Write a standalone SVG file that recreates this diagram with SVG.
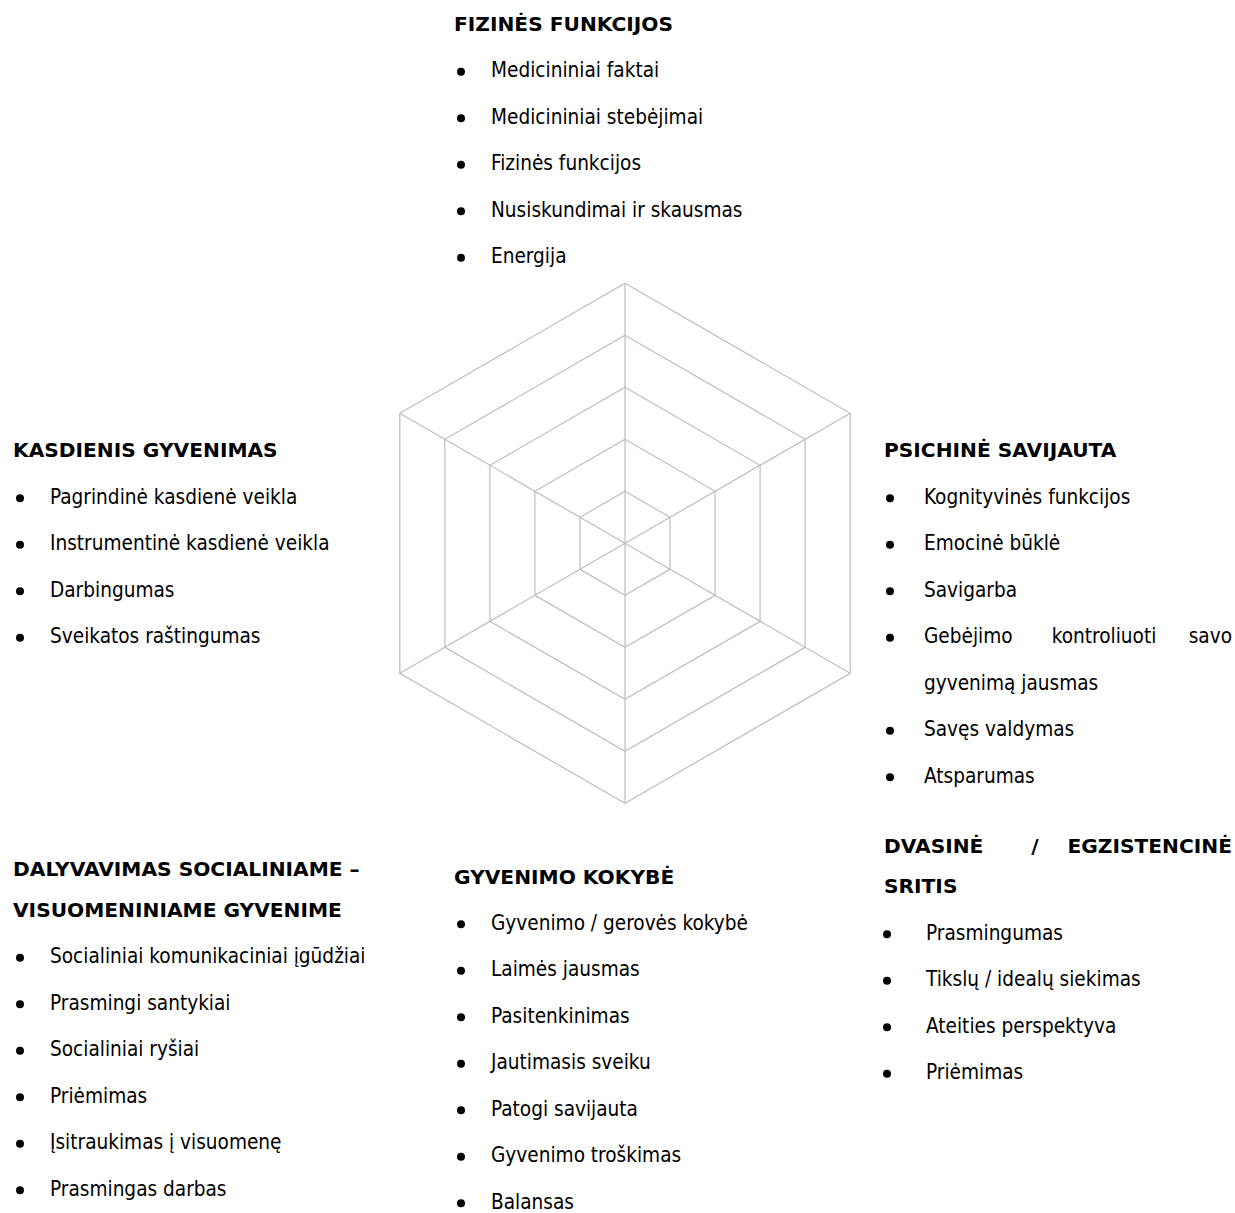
<svg xmlns="http://www.w3.org/2000/svg" width="1235" height="1213" viewBox="0 0 1235 1213">
  <style>
    .grid { fill: none; stroke: #bdbdbd; stroke-width: 1.2; stroke-linejoin: miter; }
    .head { font-family: "DejaVu Sans", "Liberation Sans", sans-serif; font-weight: bold; font-size: 20.2px; fill: #000; }
    .item { font-family: "DejaVu Sans Condensed", "DejaVu Sans", sans-serif; font-stretch: condensed; font-size: 20.6px; fill: #000; }
    .dot { fill: #000; }
  </style>
  <defs>
    <circle id="bullet" class="dot" r="4"/>
  </defs>
  <rect width="1235" height="1213" fill="#fff"/>

  <!-- hexagonal radar grid: five rings and six spokes -->
  <g id="radar" transform="translate(625,543.3)">
    <polygon class="grid" points="0,-52 45.03,-26 45.03,26 0,52 -45.03,26 -45.03,-26"/>
    <polygon class="grid" points="0,-104 90.07,-52 90.07,52 0,104 -90.07,52 -90.07,-52"/>
    <polygon class="grid" points="0,-156 135.1,-78 135.1,78 0,156 -135.1,78 -135.1,-78"/>
    <polygon class="grid" points="0,-208 180.13,-104 180.13,104 0,208 -180.13,104 -180.13,-104"/>
    <polygon class="grid" points="0,-260 225.17,-130 225.17,130 0,260 -225.17,130 -225.17,-130"/>
    <g id="spokes">
      <line class="grid" x1="0" y1="0" x2="0" y2="-260"/>
      <line class="grid" x1="0" y1="0" x2="225.17" y2="-130"/>
      <line class="grid" x1="0" y1="0" x2="225.17" y2="130"/>
      <line class="grid" x1="0" y1="0" x2="0" y2="260"/>
      <line class="grid" x1="0" y1="0" x2="-225.17" y2="130"/>
      <line class="grid" x1="0" y1="0" x2="-225.17" y2="-130"/>
    </g>
  </g>

  <!-- top: physical functions -->
  <g id="fizines-funkcijos">
    <text class="head" x="454" y="30.5">FIZINĖS FUNKCIJOS</text>
    <use href="#bullet" x="461" y="71.8"/>
    <text class="item" x="491" y="77.3">Medicininiai faktai</text>
    <use href="#bullet" x="461" y="118.3"/>
    <text class="item" x="491" y="123.8">Medicininiai stebėjimai</text>
    <use href="#bullet" x="461" y="164.8"/>
    <text class="item" x="491" y="170.3">Fizinės funkcijos</text>
    <use href="#bullet" x="461" y="211.3"/>
    <text class="item" x="491" y="216.8">Nusiskundimai ir skausmas</text>
    <use href="#bullet" x="461" y="257.8"/>
    <text class="item" x="491" y="263.3">Energija</text>
  </g>

  <!-- left: daily living -->
  <g id="kasdienis-gyvenimas">
    <text class="head" x="13" y="457.3">KASDIENIS GYVENIMAS</text>
    <use href="#bullet" x="20" y="498.3"/>
    <text class="item" x="50" y="503.8">Pagrindinė kasdienė veikla</text>
    <use href="#bullet" x="20" y="544.8"/>
    <text class="item" x="50" y="550.3">Instrumentinė kasdienė veikla</text>
    <use href="#bullet" x="20" y="591.3"/>
    <text class="item" x="50" y="596.8">Darbingumas</text>
    <use href="#bullet" x="20" y="637.8"/>
    <text class="item" x="50" y="643.3">Sveikatos raštingumas</text>
  </g>

  <!-- right: mental wellbeing -->
  <g id="psichine-savijauta">
    <text class="head" x="884" y="457.3">PSICHINĖ SAVIJAUTA</text>
    <use href="#bullet" x="890" y="498.3"/>
    <text class="item" x="924" y="503.8">Kognityvinės funkcijos</text>
    <use href="#bullet" x="890" y="544.8"/>
    <text class="item" x="924" y="550.3">Emocinė būklė</text>
    <use href="#bullet" x="890" y="591.3"/>
    <text class="item" x="924" y="596.8">Savigarba</text>
    <use href="#bullet" x="890" y="637.8"/>
    <text class="item" x="924" y="643.3">Gebėjimo</text>
    <text class="item" x="1104" y="643.3" text-anchor="middle">kontroliuoti</text>
    <text class="item" x="1232" y="643.3" text-anchor="end">savo</text>
    <text class="item" x="924" y="689.8">gyvenimą jausmas</text>
    <use href="#bullet" x="890" y="730.8"/>
    <text class="item" x="924" y="736.3">Savęs valdymas</text>
    <use href="#bullet" x="890" y="777.3"/>
    <text class="item" x="924" y="782.8">Atsparumas</text>
  </g>

  <!-- bottom left: social participation -->
  <g id="dalyvavimas">
    <text class="head" x="13" y="876.3">DALYVAVIMAS SOCIALINIAME –</text>
    <text class="head" x="13" y="916.7">VISUOMENINIAME GYVENIME</text>
    <use href="#bullet" x="20" y="957.8"/>
    <text class="item" x="50" y="963.3">Socialiniai komunikaciniai įgūdžiai</text>
    <use href="#bullet" x="20" y="1004.3"/>
    <text class="item" x="50" y="1009.8">Prasmingi santykiai</text>
    <use href="#bullet" x="20" y="1050.8"/>
    <text class="item" x="50" y="1056.3">Socialiniai ryšiai</text>
    <use href="#bullet" x="20" y="1097.3"/>
    <text class="item" x="50" y="1102.8">Priėmimas</text>
    <use href="#bullet" x="20" y="1143.8"/>
    <text class="item" x="50" y="1149.3">Įsitraukimas į visuomenę</text>
    <use href="#bullet" x="20" y="1190.3"/>
    <text class="item" x="50" y="1195.8">Prasmingas darbas</text>
  </g>

  <!-- bottom middle: quality of life -->
  <g id="gyvenimo-kokybe">
    <text class="head" x="454" y="883.5">GYVENIMO KOKYBĖ</text>
    <use href="#bullet" x="461" y="924.3"/>
    <text class="item" x="491" y="929.8">Gyvenimo / gerovės kokybė</text>
    <use href="#bullet" x="461" y="970.8"/>
    <text class="item" x="491" y="976.3">Laimės jausmas</text>
    <use href="#bullet" x="461" y="1017.3"/>
    <text class="item" x="491" y="1022.8">Pasitenkinimas</text>
    <use href="#bullet" x="461" y="1063.8"/>
    <text class="item" x="491" y="1069.3">Jautimasis sveiku</text>
    <use href="#bullet" x="461" y="1110.3"/>
    <text class="item" x="491" y="1115.8">Patogi savijauta</text>
    <use href="#bullet" x="461" y="1156.8"/>
    <text class="item" x="491" y="1162.3">Gyvenimo troškimas</text>
    <use href="#bullet" x="461" y="1203.3"/>
    <text class="item" x="491" y="1208.8">Balansas</text>
  </g>

  <!-- bottom right: spiritual / existential domain -->
  <g id="dvasine-sritis">
    <text class="head" x="884" y="853">DVASINĖ</text>
    <text class="head" x="1035" y="853" text-anchor="middle">/</text>
    <text class="head" x="1232" y="853" text-anchor="end">EGZISTENCINĖ</text>
    <text class="head" x="884" y="893">SRITIS</text>
    <use href="#bullet" x="887" y="934.3"/>
    <text class="item" x="926" y="939.8">Prasmingumas</text>
    <use href="#bullet" x="887" y="980.8"/>
    <text class="item" x="926" y="986.3">Tikslų / idealų siekimas</text>
    <use href="#bullet" x="887" y="1027.3"/>
    <text class="item" x="926" y="1032.8">Ateities perspektyva</text>
    <use href="#bullet" x="887" y="1073.8"/>
    <text class="item" x="926" y="1079.3">Priėmimas</text>
  </g>
</svg>
